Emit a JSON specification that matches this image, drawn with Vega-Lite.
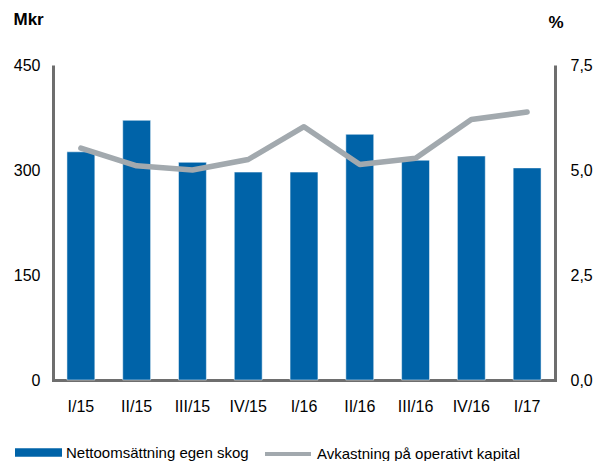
{
  "$schema": "https://vega.github.io/schema/vega-lite/v6.json",
  "width": 502,
  "height": 315,
  "autosize": {"type": "none"},
  "padding": {"left": 53, "top": 65, "right": 40, "bottom": 81},
  "config": {
    "view": {"stroke": null},
    "font": "Liberation Sans",
    "axis": {"labelFont": "Liberation Sans", "labelFontSize": 16, "labelColor": "#000000", "domainColor": "#6e6e6e", "domainWidth": 3, "ticks": false, "grid": false, "titleFont": "Liberation Sans"},
    "legend": {"labelFont": "Liberation Sans", "labelFontSize": 15, "labelColor": "#000000", "padding": 0, "labelLimit": 0}
  },
  "data": {
    "values": [
      {"q": "I/15", "sales": 326, "roc": 5.52},
      {"q": "II/15", "sales": 371, "roc": 5.1},
      {"q": "III/15", "sales": 311, "roc": 5.0},
      {"q": "IV/15", "sales": 297, "roc": 5.25},
      {"q": "I/16", "sales": 297, "roc": 6.03},
      {"q": "II/16", "sales": 351, "roc": 5.13},
      {"q": "III/16", "sales": 314, "roc": 5.28},
      {"q": "IV/16", "sales": 320, "roc": 6.2},
      {"q": "I/17", "sales": 303, "roc": 6.38}
    ]
  },
  "encoding": {
    "x": {"field": "q", "type": "nominal", "sort": null, "scale": {"paddingInner": 0.5, "paddingOuter": 0.25}, "axis": {"title": null, "labelAngle": 0, "labelPadding": 18, "domainCap": "square"}}
  },
  "layer": [
    {
      "mark": {"type": "bar", "stroke": "#ffffff", "strokeWidth": 0.5},
      "encoding": {
        "y": {"field": "sales", "type": "quantitative", "scale": {"domain": [0, 450], "nice": false}, "axis": {"values": [0, 150, 300, 450], "labelPadding": 13, "title": "Mkr", "titleAngle": 0, "titleX": -40, "titleY": -46, "titleAlign": "left", "titleBaseline": "middle", "titleFontSize": 17, "titleFontWeight": "bold", "titleColor": "#000000"}},
        "color": {"datum": "Nettoomsättning egen skog", "scale": {"range": ["#0063a8"]}, "legend": {"title": null, "orient": "none", "legendX": -38, "legendY": 364, "symbolType": "M-1,-0.18H1V0.18H-1Z", "symbolSize": 2209, "symbolStrokeWidth": 0, "labelOffset": 4, "labelLimit": 0}}
      }
    },
    {
      "mark": {"type": "line", "strokeWidth": 5.5, "strokeJoin": "round", "strokeCap": "round"},
      "encoding": {
        "y": {"field": "roc", "type": "quantitative", "scale": {"domain": [0, 7.5], "nice": false}, "axis": {"orient": "right", "values": [0, 2.5, 5, 7.5], "labelExpr": "replace(format(datum.value, '.1f'), '.', ',')", "labelPadding": 15, "title": "%", "titleAngle": 0, "titleX": -7, "titleY": -43, "titleAlign": "left", "titleBaseline": "middle", "titleFontSize": 17, "titleFontWeight": "bold", "titleColor": "#000000"}},
        "stroke": {"datum": "Avkastning på operativt kapital", "scale": {"range": ["#a2a9ae"]}, "legend": {"title": null, "orient": "none", "legendX": 210, "legendY": 364, "symbolType": "stroke", "symbolSize": 2116, "symbolStrokeWidth": 4, "labelOffset": 4, "labelLimit": 0}}
      }
    }
  ],
  "resolve": {"scale": {"y": "independent"}}
}
